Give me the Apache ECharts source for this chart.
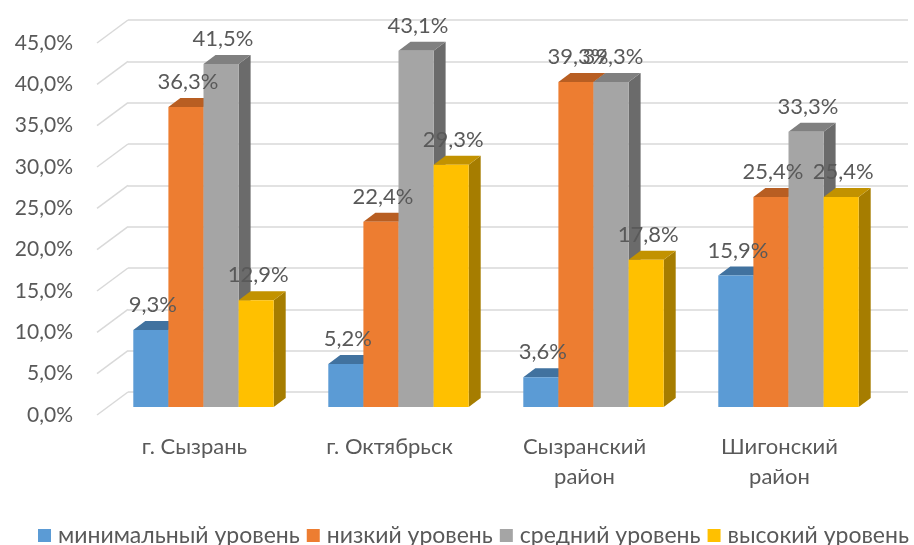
<!DOCTYPE html>
<html>
<head>
<meta charset="utf-8">
<style>
  html, body { margin: 0; padding: 0; background: #ffffff; }
  #chart { width: 914px; height: 545px; }
</style>
<script src="https://cdn.jsdelivr.net/npm/echarts@6/dist/echarts.min.js"></script>
</head>
<body>
<div id="chart"></div>
<script>
// Categories (districts) and level shares, %
const categories = ['г. Сызрань', 'г. Октябрьск', 'Сызранский\nрайон', 'Шигонский\nрайон'];
const seriesNames = ['минимальный уровень', 'низкий уровень', 'средний уровень', 'высокий уровень'];
const minimalLevel = [9.3, 5.2, 3.6, 15.9];
const lowLevel = [36.3, 22.4, 39.3, 25.4];
const middleLevel = [41.5, 43.1, 39.3, 33.3];
const highLevel = [12.9, 29.3, 17.8, 25.4];
const yTicks = [0, 5, 10, 15, 20, 25, 30, 35, 40, 45];

const levels = [minimalLevel, lowLevel, middleLevel, highLevel];

// face colours: front, top, side
const palette = [
  { front: '#5B9BD5', top: '#41729F', side: '#3F6E99' },
  { front: '#ED7D31', top: '#B85E22', side: '#A9561F' },
  { front: '#A5A5A5', top: '#808080', side: '#6B6B6B' },
  { front: '#FFC000', top: '#C29200', side: '#A67D00' }
];

const TEXT = '#595959';
const FONT = 'Lato, "Open Sans", sans-serif';

// offsets of the 3D scene relative to the axis plane
const BAR_DX = 9, BAR_DY = -8;     // front face of bars
const DEPTH_DX = 12, DEPTH_DY = -9; // bar depth
const WALL_DX = 31, WALL_DY = -23;  // back wall

const fmt = v => v.toFixed(1).replace('.', ',') + '%';

function barGeom(api, idx) {
  const cat = api.value(0), val = api.value(1);
  const base = api.coord([cat, 0]);
  const top = api.coord([cat, val]);
  const band = api.size([1, 0])[0];
  const w = band * 0.18;
  const x0 = base[0] - 2 * w + idx * w + BAR_DX;
  return { x0, x1: x0 + w, yb: base[1] + BAR_DY, yt: top[1] + BAR_DY, w };
}

function barRenderer(idx) {
  const c = palette[idx];
  return function (params, api) {
    const g = barGeom(api, idx);
    const { x0, x1, yb, yt } = g;
    return {
      type: 'group',
      children: [
        { type: 'polygon', shape: { points: [[x1, yt], [x1 + DEPTH_DX, yt + DEPTH_DY], [x1 + DEPTH_DX, yb + DEPTH_DY], [x1, yb]] }, style: { fill: c.side } },
        { type: 'polygon', shape: { points: [[x0, yt], [x0 + DEPTH_DX, yt + DEPTH_DY], [x1 + DEPTH_DX, yt + DEPTH_DY], [x1, yt]] }, style: { fill: c.top } },
        { type: 'rect', shape: { x: x0, y: yt, width: x1 - x0, height: yb - yt }, style: { fill: c.front } }
      ]
    };
  };
}

const barSeries = levels.map((arr, i) => ({
  name: seriesNames[i],
  type: 'custom',
  xAxisIndex: 0,
  yAxisIndex: 0,
  itemStyle: { color: palette[i].front },
  renderItem: barRenderer(i),
  data: arr.map((v, k) => [k, v]),
  z: 3
}));

// value labels above the bars, drawn over all bars
const labelData = [];
levels.forEach((arr, i) => arr.forEach((v, k) => labelData.push([k, v, i])));
const labelSeries = {
  type: 'custom',
  xAxisIndex: 0,
  yAxisIndex: 0,
  silent: true,
  z: 5,
  renderItem: function (params, api) {
    const idx = api.value(2);
    const g = barGeom(api, idx);
    return {
      type: 'text',
      style: {
        text: fmt(api.value(1)),
        x: (g.x0 + g.x1) / 2 + 2,
        y: g.yt - 25,
        textAlign: 'center',
        textVerticalAlign: 'middle',
        fill: TEXT,
        font: '22px ' + FONT
      }
    };
  },
  data: labelData
};

// slanted side-wall lines joining the axis plane to the back wall
const sideWallSeries = {
  type: 'custom',
  xAxisIndex: 0,
  yAxisIndex: 0,
  silent: true,
  z: 1,
  renderItem: function (params, api) {
    const y = api.coord([0, api.value(0)])[1];
    const x = params.coordSys.x;
    return {
      type: 'line',
      shape: { x1: x, y1: y, x2: x + WALL_DX, y2: y + WALL_DY },
      style: { stroke: '#D9D9D9', lineWidth: 1.5 }
    };
  },
  data: yTicks.map(v => [v])
};

const chart = echarts.init(document.getElementById('chart'), null, { renderer: 'canvas' });
chart.setOption({
  animation: false,
  backgroundColor: '#ffffff',
  grid: [
    { left: 97, right: 37, top: 43, bottom: 130 },
    { left: 97 + WALL_DX, right: 37 - WALL_DX, top: 43 + WALL_DY, bottom: 130 - WALL_DY }
  ],
  legend: {
    data: seriesNames,
    left: 33,
    top: 519,
    icon: 'rect',
    itemWidth: 13,
    itemHeight: 13,
    itemGap: 7,
    textStyle: { color: TEXT, fontSize: 23, fontFamily: FONT, padding: [0, 0, 0, 2] }
  },
  xAxis: [
    {
      type: 'category', gridIndex: 0, data: categories,
      axisLine: { show: false }, axisTick: { show: false },
      axisLabel: { color: TEXT, fontSize: 22, fontFamily: FONT, lineHeight: 30, margin: 17, interval: 0 }
    },
    {
      type: 'category', gridIndex: 1, data: categories,
      axisLine: { show: false }, axisTick: { show: false }, axisLabel: { show: false }
    }
  ],
  yAxis: [
    {
      type: 'value', gridIndex: 0, min: 0, max: 45, interval: 5,
      axisLine: { show: false }, axisTick: { show: false }, splitLine: { show: false },
      axisLabel: { color: TEXT, fontSize: 21, fontFamily: FONT, margin: 24, formatter: fmt }
    },
    {
      type: 'value', gridIndex: 1, min: 0, max: 45, interval: 5,
      axisLine: { show: false }, axisTick: { show: false }, axisLabel: { show: false },
      splitLine: { show: true, lineStyle: { color: '#D9D9D9', width: 1.5 } }
    }
  ],
  series: [sideWallSeries].concat(barSeries, [labelSeries])
});
</script>
</body>
</html>
